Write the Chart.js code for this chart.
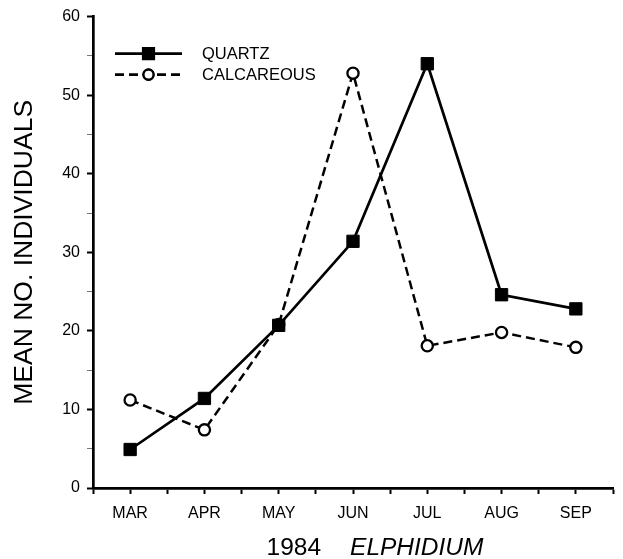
<!DOCTYPE html>
<html>
<head>
<meta charset="utf-8">
<script src="https://cdn.jsdelivr.net/npm/chart.js@4/dist/chart.umd.min.js"></script>
<style>
  html, body { margin: 0; padding: 0; background: #fff; }
  #wrap { width: 623px; height: 559px; }
</style>
</head>
<body>
<div id="wrap"><canvas id="myChart"></canvas></div>
<script>
// data
const months = ['MAR', 'APR', 'MAY', 'JUN', 'JUL', 'AUG', 'SEP'];
const quartz = [4.9, 11.4, 20.7, 31.4, 54.0, 24.6, 22.8];
const calcareous = [11.2, 7.4, 20.8, 52.8, 18.1, 19.8, 17.9];
const yTicks = [0, 10, 20, 30, 40, 50, 60];

const FONT = '"Liberation Sans", Arial, Helvetica, sans-serif';

// legend drawn inside the plot, line + marker like the original
const insideLegend = {
    id: 'insideLegend',
    afterDraw(chart) {
        const ctx = chart.ctx;
        const area = chart.chartArea;
        const rows = [
            {label: 'QUARTZ', ds: chart.data.datasets[0], dy: 37},
            {label: 'CALCAREOUS', ds: chart.data.datasets[1], dy: 58}
        ];
        ctx.save();
        rows.forEach(r => {
            const y = area.top + r.dy;
            const x0 = area.left + 22, x1 = area.left + 89;
            ctx.beginPath();
            ctx.lineWidth = 2.6;
            ctx.strokeStyle = '#000';
            ctx.setLineDash(r.ds.borderDash || []);
            ctx.moveTo(x0, y);
            ctx.lineTo(x1, y);
            ctx.stroke();
            ctx.setLineDash([]);
            Chart.helpers.drawPoint(ctx, {
                pointStyle: r.ds.pointStyle,
                radius: r.ds.pointStyle === 'rect' ? 7.5 : 5,
                borderWidth: 2.2
            }, (x0 + x1) / 2, y);
            ctx.lineWidth = 2.2;
            ctx.fillStyle = r.ds.pointBackgroundColor;
            ctx.strokeStyle = '#000';
            ctx.fill();
            ctx.stroke();
            ctx.fillStyle = '#000';
            ctx.font = '16.5px ' + FONT;
            ctx.textBaseline = 'middle';
            ctx.fillText(r.label, area.left + 109, y + 1);
        });
        ctx.restore();
    }
};

// x axis title with the italic genus name
const xTitle = {
    id: 'xTitle',
    afterDraw(chart) {
        const ctx = chart.ctx;
        const a = '1984', b = 'ELPHIDIUM', gap = 29;
        ctx.save();
        ctx.fillStyle = '#000';
        ctx.textBaseline = 'alphabetic';
        ctx.font = '24.5px ' + FONT;
        const wa = ctx.measureText(a).width;
        ctx.font = 'italic 24.5px ' + FONT;
        const wb = ctx.measureText(b).width;
        const cx = (chart.chartArea.left + chart.chartArea.right) / 2 + 22;
        let x = cx - (wa + gap + wb) / 2;
        ctx.font = '24.5px ' + FONT;
        ctx.fillText(a, x, 555);
        ctx.font = 'italic 24.5px ' + FONT;
        ctx.fillText(b, x + wa + gap, 555);
        ctx.restore();
    }
};

const chartRef = document.getElementById('myChart');
new Chart(chartRef.getContext('2d'), {
    type: 'line',
    data: {
        datasets: [
            {
                label: 'QUARTZ',
                data: quartz.map((v, i) => ({x: i, y: v})),
                borderColor: '#000',
                borderWidth: 2.7,
                pointStyle: 'rect',
                pointRadius: 8.7,
                pointBackgroundColor: '#000',
                pointBorderColor: '#000',
                pointBorderWidth: 1,
                tension: 0
            },
            {
                label: 'CALCAREOUS',
                data: calcareous.map((v, i) => ({x: i, y: v})),
                borderColor: '#000',
                borderWidth: 2.5,
                borderDash: [9, 5],
                pointStyle: 'circle',
                pointRadius: 5.6,
                pointBackgroundColor: '#fff',
                pointBorderColor: '#000',
                pointBorderWidth: 2.3,
                tension: 0
            }
        ]
    },
    options: {
        responsive: true,
        maintainAspectRatio: false,
        animation: false,
        layout: {padding: {top: 15, right: 4, left: 0, bottom: 0}},
        plugins: {
            legend: {display: false},
            tooltip: {enabled: false}
        },
        scales: {
            x: {
                type: 'linear',
                min: -0.5,
                max: months.length - 0.5,
                afterBuildTicks: scale => {
                    const t = [];
                    for (let v = -0.5; v <= months.length - 0.5; v += 0.5) t.push({value: v});
                    scale.ticks = t;
                },
                afterFit: scale => { scale.height = 71; },
                border: {display: true, color: '#000', width: 2.7},
                grid: {drawOnChartArea: false, drawTicks: true, tickLength: 6, color: '#000', tickWidth: 2},
                ticks: {
                    autoSkip: false,
                    maxRotation: 0,
                    padding: 10,
                    color: '#000',
                    font: {family: FONT, size: 16},
                    callback: v => Number.isInteger(v) ? months[v] : ''
                }
            },
            y: {
                min: 0,
                max: 60,
                afterBuildTicks: scale => {
                    const t = [];
                    yTicks.forEach((v, i) => {
                        t.push({value: v});
                        if (i < yTicks.length - 1) t.push({value: v + 5});
                    });
                    scale.ticks = t;
                },
                afterFit: scale => { scale.width = 93; },
                border: {display: true, color: '#000', width: 2.7},
                grid: {
                    drawOnChartArea: false,
                    tickLength: 6,
                    color: ctx => (ctx.tick && ctx.tick.value % 10 === 0) ? '#000' : '#777',
                    tickWidth: ctx => (ctx.tick && ctx.tick.value % 10 === 0) ? 2 : 1
                },
                ticks: {
                    padding: 7,
                    color: '#000',
                    font: {family: FONT, size: 16},
                    callback: v => yTicks.includes(v) ? String(v) : ''
                },
                title: {
                    display: true,
                    text: 'MEAN NO. INDIVIDUALS',
                    color: '#000',
                    font: {family: FONT, size: 26.5},
                    padding: {top: 9, bottom: 0}
                }
            }
        }
    },
    plugins: [insideLegend, xTitle]
});
</script>
</body>
</html>
